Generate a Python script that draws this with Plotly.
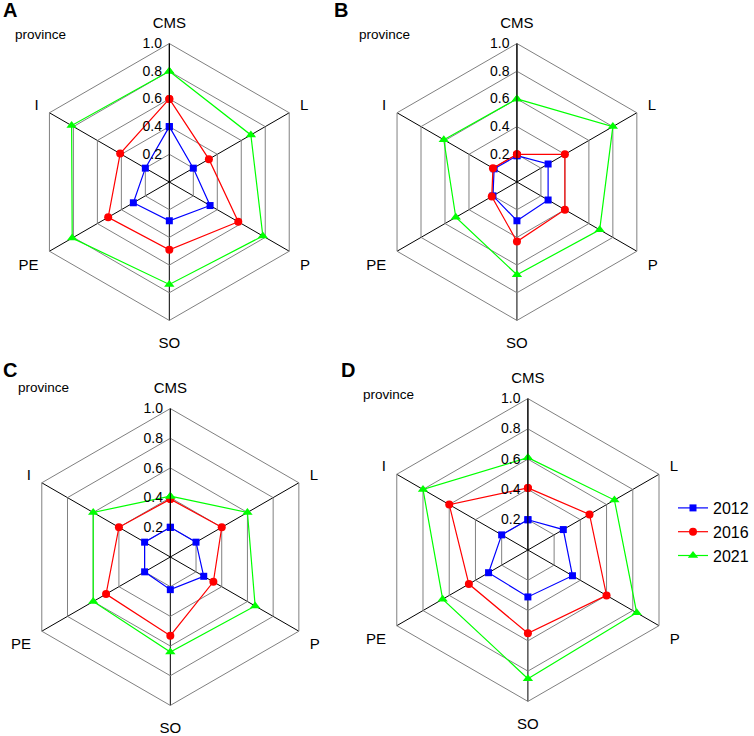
import plotly.graph_objects as go

categories = ["CMS", "L", "P", "SO", "PE", "I"]
years = ["2012", "2016", "2021"]

# values per panel, per year, in category order
panel_A = {"2012": [0.40, 0.20, 0.34, 0.28, 0.30, 0.20],
           "2016": [0.60, 0.33, 0.575, 0.49, 0.51, 0.41],
           "2021": [0.80, 0.68, 0.78, 0.74, 0.81, 0.815]}
panel_B = {"2012": [0.19, 0.26, 0.26, 0.28, 0.20, 0.19],
           "2016": [0.20, 0.40, 0.40, 0.43, 0.21, 0.20],
           "2021": [0.60, 0.80, 0.69, 0.67, 0.51, 0.61]}
panel_C = {"2012": [0.20, 0.20, 0.26, 0.22, 0.20, 0.20],
           "2016": [0.39, 0.40, 0.335, 0.53, 0.50, 0.40],
           "2021": [0.41, 0.60, 0.66, 0.64, 0.60, 0.60]}
panel_D = {"2012": [0.20, 0.27, 0.34, 0.31, 0.30, 0.20],
           "2016": [0.41, 0.47, 0.60, 0.55, 0.45, 0.60],
           "2021": [0.61, 0.66, 0.83, 0.85, 0.65, 0.80]}

panel_letters = ["A", "B", "C", "D"]
radial_ticks = [0.2, 0.4, 0.6, 0.8, 1.0]
radial_ticktext = ["0.2", "0.4", "0.6", "0.8", "1.0"]

colors = {"2012": "#0000FF", "2016": "#FF0000", "2021": "#00FF00"}
symbols = {"2012": "square", "2016": "circle", "2021": "triangle-up"}
msizes = {"2012": 7, "2016": 8, "2021": 9}

W, H = 754, 736
FONT = "Liberation Sans, Arial, Helvetica, sans-serif"

# panel centres and radii in pixels
geom = [((170, 182), 139), ((519, 182), 139), ((171, 557), 149), ((530, 550), 152)]
panels = [panel_A, panel_B, panel_C, panel_D]

fig = go.Figure()
layout_polars = {}
for i, (data, ((cx, cy), R)) in enumerate(zip(panels, geom)):
    pname = "polar" if i == 0 else f"polar{i+1}"
    for y in years:
        vals = data[y]
        fig.add_trace(go.Scatterpolar(
            r=vals + vals[:1], theta=categories + categories[:1],
            mode="lines+markers", name=y, legendgroup=y,
            showlegend=(i == 3),
            line=dict(color=colors[y], width=1.2),
            marker=dict(symbol=symbols[y], size=msizes[y], color=colors[y]),
            subplot=pname))
    layout_polars[pname] = dict(
        domain=dict(x=[(cx - R) / W, (cx + R) / W],
                    y=[1 - (cy + R) / H, 1 - (cy - R) / H]),
        gridshape="linear",
        bgcolor="white",
        radialaxis=dict(range=[0, 1], tickvals=radial_ticks, ticktext=radial_ticktext,
                        angle=90, tickangle=90, side="counterclockwise",
                        showline=True, linecolor="black", linewidth=1,
                        gridcolor="#808080", gridwidth=1,
                        ticks="outside", ticklen=2, tickcolor="rgba(0,0,0,0)",
                        tickfont=dict(family=FONT, size=14, color="black")),
        angularaxis=dict(type="category", categoryarray=categories,
                         rotation=90, direction="clockwise",
                         showline=True, linecolor="#808080", linewidth=1,
                         gridcolor="black", gridwidth=1,
                         ticks="outside", ticklen=9, tickcolor="rgba(0,0,0,0)",
                         tickfont=dict(family=FONT, size=15, color="black")),
    )

fig.update_layout(**layout_polars)

# panel letters and "province" labels
letter_pos = [(1, 10), (333, 10), (1, 370), (340, 370)]
prov_pos = [(13, 34), (358, 34), (16, 387), (362, 394)]
annots = []
for L, (lx, ly), (px, py) in zip(panel_letters, letter_pos, prov_pos):
    annots.append(dict(text=f"<b>{L}</b>", x=lx / W, y=1 - ly / H, xref="paper", yref="paper",
                       xanchor="left", yanchor="middle", showarrow=False,
                       font=dict(family=FONT, size=20, color="black")))
    annots.append(dict(text="province", x=px / W, y=1 - py / H, xref="paper", yref="paper",
                       xanchor="left", yanchor="middle", showarrow=False,
                       font=dict(family=FONT, size=13.5, color="black")))

fig.update_layout(
    width=W, height=H,
    margin=dict(l=0, r=0, t=0, b=0),
    paper_bgcolor="white", plot_bgcolor="white",
    annotations=annots,
    showlegend=True,
    legend=dict(x=676 / W, y=1 - 491 / H, xanchor="left", yanchor="top",
                font=dict(family=FONT, size=16, color="black"),
                bgcolor="rgba(0,0,0,0)", tracegroupgap=0, itemwidth=30),
)

fig.write_html("out.html", config={"displayModeBar": False},
               post_script="document.body.style.margin='0px';")
